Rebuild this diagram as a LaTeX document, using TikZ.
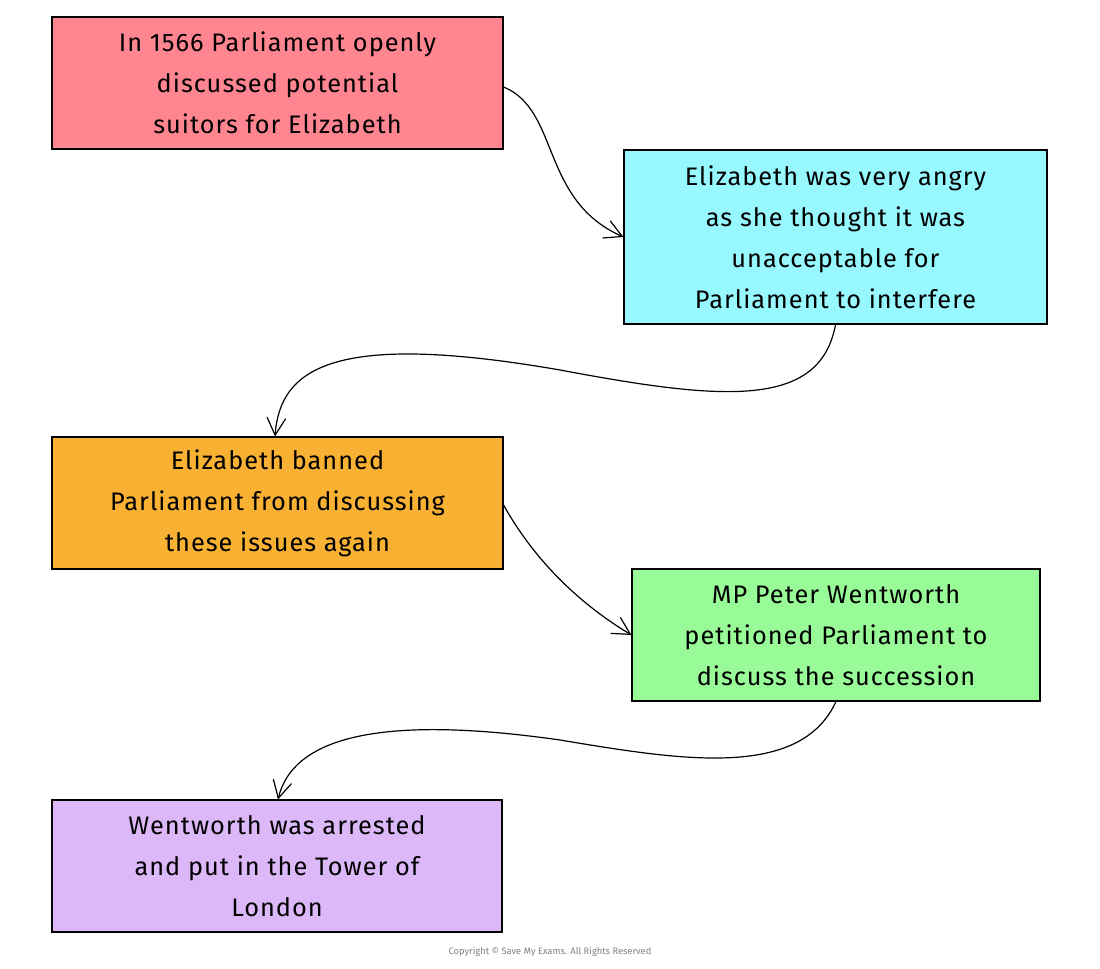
\documentclass[tikz,border=0pt]{standalone}
\usepackage{fontspec}
\setmainfont{Fira Sans}
\usetikzlibrary{arrows.meta}
\definecolor{cred}{HTML}{FF8690}
\definecolor{ccyan}{HTML}{98F8FF}
\definecolor{corange}{HTML}{F8B133}
\definecolor{cgreen}{HTML}{98FB98}
\definecolor{cpurple}{HTML}{DDB8F8}
\begin{document}
\begin{tikzpicture}[x=0.75pt,y=-0.75pt,
  box/.style={draw=black,line width=0.8pt,align=center,inner sep=0pt,
    font=\fontsize{19}{30.75}\selectfont\addfontfeature{LetterSpace=4}},
  arr/.style={-{Straight Barb[length=13pt,width=14pt]},line width=0.9pt}]
\useasboundingbox (0,0) rectangle (1100,969);
\node[box,fill=cred,minimum width=451*0.75pt,minimum height=132*0.75pt] (b1) at (277.5,83) {In 1566 Parliament openly\\discussed potential\\suitors for Elizabeth};
\node[box,fill=ccyan,minimum width=423*0.75pt,minimum height=174*0.75pt] (b2) at (835.5,237) {Elizabeth was very angry\\as she thought it was\\unacceptable for\\Parliament to interfere};
\node[box,fill=corange,minimum width=451*0.75pt,minimum height=132*0.75pt] (b3) at (277.5,503) {Elizabeth banned\\Parliament from discussing\\these issues again};
\node[box,fill=cgreen,minimum width=408*0.75pt,minimum height=132*0.75pt] (b4) at (836,635) {MP Peter Wentworth\\petitioned Parliament to\\discuss the succession};
\node[box,fill=cpurple,minimum width=450*0.75pt,minimum height=132*0.75pt] (b5) at (277,866) {Wentworth was arrested\\and put in the Tower of\\London};
\coordinate (m1) at (560,370);
\coordinate (m2) at (560,740);
\draw[arr] (b1.east |- 0,87) .. controls (560,110) and (540,200) .. (b2.west);
\draw[arr] (b2.south) .. controls (820,410) and (720,400) .. (m1) .. controls (330,330) and (280,370) .. (b3.north -| 275,0);
\draw[arr] (b3.east |- 0,505) .. controls (540,570) and (590,610) .. (b4.west);
\draw[arr] (b4.south) .. controls (800,780) and (680,760) .. (m2) .. controls (350,710) and (290,750) .. (b5.north -| 278,0);
\node[text=gray,font=\fontsize{7}{8}\selectfont] (cp) at (550,952) {Copyright © Save My Exams. All Rights Reserved};
\end{tikzpicture}
\end{document}
